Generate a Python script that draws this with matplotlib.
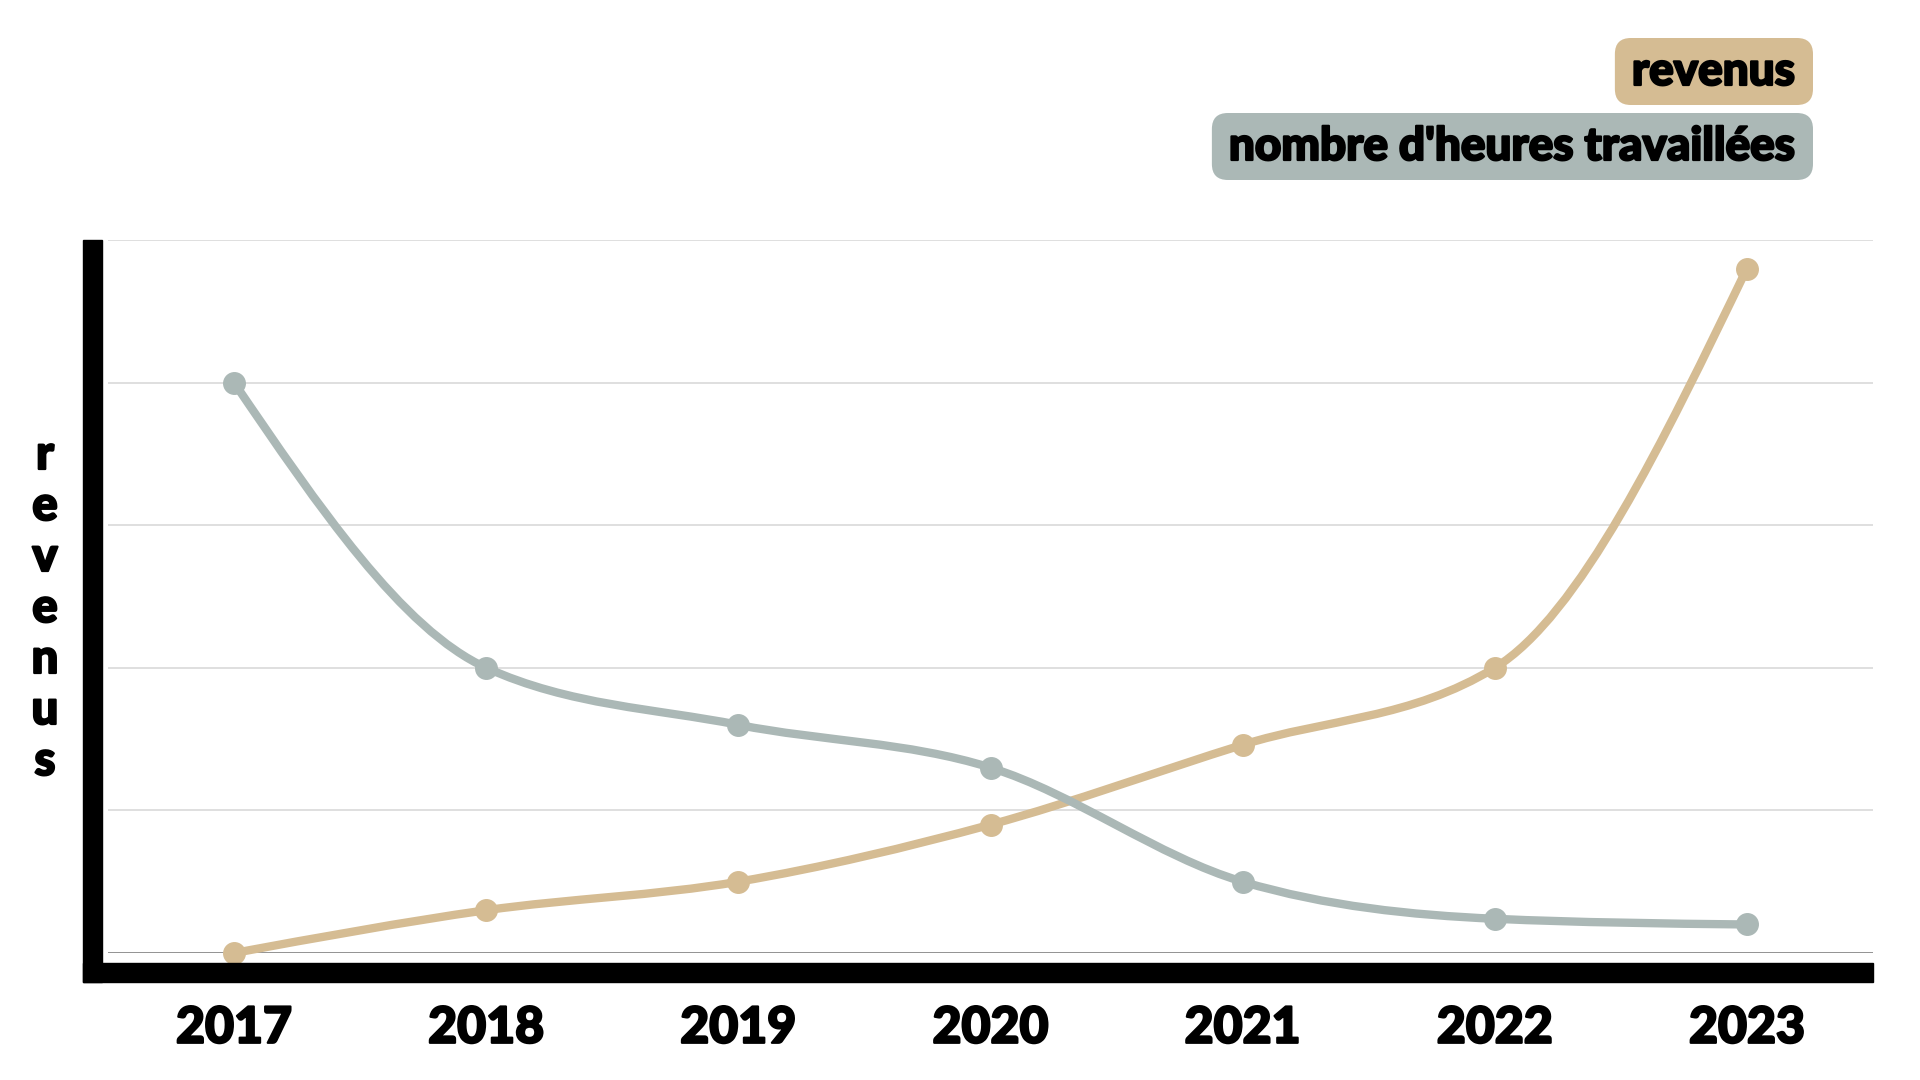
import numpy as np
import matplotlib
matplotlib.use("Agg")
import matplotlib.pyplot as plt
import matplotlib.patheffects as pe
from matplotlib import font_manager
from matplotlib.path import Path
from matplotlib.patches import PathPatch, Rectangle, FancyBboxPatch
from matplotlib.transforms import IdentityTransform

# Data (y in grid units, 0..5)
years = [2017, 2018, 2019, 2020, 2021, 2022, 2023]
revenus = [0.00, 0.30, 0.50, 0.90, 1.46, 2.00, 4.80]
heures = [4.00, 2.00, 1.60, 1.30, 0.50, 0.24, 0.20]
legend_labels = ["revenus", "nombre d'heures travaillées"]
ylabel = "revenus"

TAN = "#d5bc93"
GRAY = "#abb8b6"

W, H = 1920, 1080


def pick_font():
    # look for the heaviest weight of one of the installed families
    for fam in ["Lato", "Roboto", "Inter", "Open Sans", "Noto Sans"]:
        best = None
        for f in font_manager.fontManager.ttflist:
            w = f.weight
            if isinstance(w, str):
                w = font_manager.weight_dict.get(w, 400)
            if f.name.startswith(fam) and f.style == "normal" and w >= 700:
                if best is None or w > best[1]:
                    best = (f.name, w)
        if best:
            return best
    return "DejaVu Sans", "bold"


FONT, WEIGHT = pick_font()
# a thin stroke to make the text look heavier, like the reference
HEAVY = [pe.withStroke(linewidth=1.6, foreground="black")]


def monotone_path(x, y):
    # monotone cubic (like d3 curveMonotoneX), as bezier segments
    x = np.asarray(x, float)
    y = np.asarray(y, float)
    n = len(x)
    h = np.diff(x)
    s = np.diff(y) / h
    m = np.zeros(n)
    for i in range(1, n - 1):
        s0, s1 = s[i - 1], s[i]
        p = (s0 * h[i] + s1 * h[i - 1]) / (h[i - 1] + h[i])
        m[i] = (np.sign(s0) + np.sign(s1)) * min(abs(s0), abs(s1), 0.5 * abs(p))
    m[0] = (3 * s[0] - m[1]) / 2
    m[-1] = (3 * s[-1] - m[-2]) / 2
    verts = [(x[0], y[0])]
    codes = [Path.MOVETO]
    for i in range(n - 1):
        d = h[i] / 3
        verts += [(x[i] + d, y[i] + m[i] * d),
                  (x[i + 1] - d, y[i + 1] - m[i + 1] * d),
                  (x[i + 1], y[i + 1])]
        codes += [Path.CURVE4] * 3
    return Path(verts, codes)


fig = plt.figure(figsize=(19.2, 10.8), dpi=100)
fig.patch.set_facecolor("white")

# axes: x 108..1873 px, y 240..953 px (from top)
ax = fig.add_axes([108 / W, 1 - 953 / H, (1873 - 108) / W, (953 - 240) / H])
ax.set_xlim(2016.5, 2023.5)
ax.set_ylim(0, 5)
for sp in ax.spines.values():
    sp.set_visible(False)

ax.set_yticks(range(1, 6))
ax.yaxis.grid(True, color="#dcdcdc", lw=1.3)
ax.set_axisbelow(True)
ax.axhline(0, color="#8a8a8a", lw=1.3, zorder=1)
ax.tick_params(axis="y", length=0, labelleft=False)

ax.set_xticks(years)
ax.set_xticklabels([str(y) for y in years], fontsize=36, fontfamily=FONT,
                   fontweight=WEIGHT, color="black")
for lab in ax.get_xticklabels():
    lab.set_path_effects(HEAVY)
ax.tick_params(axis="x", length=0, pad=38)

# lines: revenus under, heures on top
for vals, col, z in [(revenus, TAN, 3), (heures, GRAY, 4)]:
    patch = PathPatch(monotone_path(years, vals), facecolor="none", edgecolor=col,
                      lw=6, capstyle="round", joinstyle="round", zorder=z, clip_on=False)
    ax.add_patch(patch)
    ax.plot(years, vals, "o", ms=15.5, color=col, zorder=z + 0.5, clip_on=False)

# thick black axis bars
fig.patches.append(Rectangle((83 / W, 1 - 982 / H), 19 / W, (982 - 240) / H,
                             transform=fig.transFigure, color="black", zorder=5))
fig.patches.append(Rectangle((83 / W, 1 - 982 / H), (1873 - 83) / W, 19 / H,
                             transform=fig.transFigure, color="black", zorder=5))

# stacked y label
for i, ch in enumerate(ylabel):
    fig.text(45 / W, 1 - (469 + i * 51) / H, ch, ha="center", va="baseline",
             fontsize=34, fontfamily=FONT, fontweight=WEIGHT, color="black",
             path_effects=HEAVY)

# legend as rounded boxes, right aligned
fig.canvas.draw()
renderer = fig.canvas.get_renderer()
legend_rows = [(legend_labels[0], TAN, 85, 38, 105), (legend_labels[1], GRAY, 160, 113, 180)]
for text, col, base, top, bottom in legend_rows:
    t = fig.text(1795 / W, 1 - base / H, text, ha="right", va="baseline",
                 fontsize=33, fontfamily=FONT, fontweight=WEIGHT, color="black",
                 zorder=3, path_effects=HEAVY)
    bb = t.get_window_extent(renderer=renderer)
    left = bb.x0 - 17
    box = FancyBboxPatch((left, H - bottom), 1813 - left, bottom - top,
                         boxstyle="round,pad=0,rounding_size=16",
                         transform=IdentityTransform(), facecolor=col,
                         edgecolor="none", zorder=2)
    fig.patches.append(box)

fig.savefig("out.png", dpi=100, facecolor="white")
